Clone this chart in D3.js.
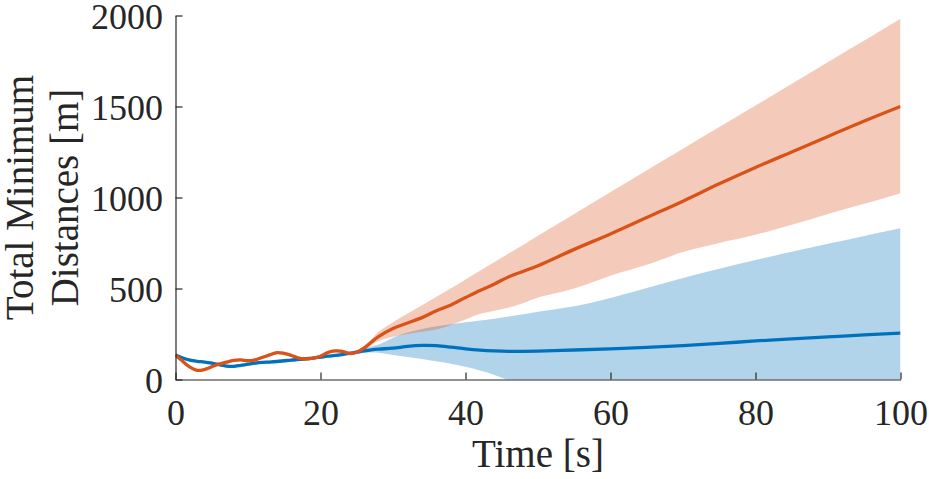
<!DOCTYPE html>
<html>
<head>
<meta charset="utf-8">
<script src="https://cdn.jsdelivr.net/npm/d3@7"></script>
<style>
  body { margin: 0; background: #fff; }
  svg { display: block; font-family: "Liberation Serif", "Times New Roman", serif; }
</style>
</head>
<body>
<div id="chart"></div>
<script>
// time samples [s]
const times = [0,1,2,3,4,5,6,7,8,9,10,11,12,13,14,15,16,17,18,19,20,21,22,23,24,25,26,27,28,
  30,32,34,36,38,40,42,44,46,48,50,55,60,65,70,75,80,85,90,95,100];

// blue series: mean and band
const blueMean = [135,118,106,100,96,90,82,74,72,78,84,90,94,96,99,103,107,110,114,118,123,128,132,137,143,150,157,163,167,
  172,182,187,186,178,168,161,157,155,155,156,162,168,176,186,198,212,223,234,245,255];
const blueHi = [142,125,113,107,103,97,89,81,79,85,91,97,101,103,106,110,114,117,121,125,130,135,139,145,152,162,172,182,192,
  230,258,278,292,303,314,324,334,346,358,372,402,448,503,558,608,656,702,746,789,831];
const blueLo = [128,111,99,93,89,83,75,67,65,71,77,83,87,89,92,96,100,103,107,111,116,121,125,130,136,142,146,148,147,
  135,124,113,100,86,70,49,25,-5,-30,-50,-90,-120,-150,-170,-190,-205,-215,-225,-235,-245];

// orange series: mean and band
const orangeMean = [135,100,68,50,55,70,85,95,105,108,103,108,122,135,148,143,132,118,113,117,128,148,157,155,143,150,172,205,235,
  280,310,340,378,410,450,489,525,565,595,625,715,800,890,980,1075,1165,1250,1335,1420,1500];
const orangeHi = [143,108,76,58,63,78,93,103,113,116,111,116,130,143,156,151,140,126,121,125,136,156,165,163,151,160,185,220,262,
  315,362,408,455,502,550,598,645,693,740,790,910,1030,1150,1268,1387,1505,1625,1745,1862,1982];
const orangeLo = [127,92,60,42,47,62,77,87,97,100,95,100,114,127,140,135,124,110,105,109,120,140,149,147,135,142,160,188,212,
  235,250,262,275,300,330,361,378,395,420,450,500,570,630,700,750,795,850,910,965,1024];

const xTicks = [0,20,40,60,80,100];
const yTicks = [0,500,1000,1500,2000];

document.addEventListener("DOMContentLoaded", () => {
  const W = 929, H = 479;
  const svg = d3.select("#chart").append("svg")
      .attr("width", W).attr("height", H);

  const x = d3.scaleLinear().domain([0, 100]).range([175.5, 900.5]);
  const y = d3.scaleLinear().domain([0, 2000]).range([379.5, 15.5]);

  svg.append("clipPath").attr("id", "plot")
    .append("rect")
      .attr("x", x(0)).attr("y", y(2000))
      .attr("width", x(100) - x(0)).attr("height", y(0) - y(2000));

  const g = svg.append("g").attr("clip-path", "url(#plot)");

  const band = (lo, hi) => d3.area()
      .x((d, i) => x(times[i]))
      .y0((d, i) => y(lo[i]))
      .y1((d, i) => y(hi[i]))
      .curve(d3.curveCatmullRom)(times);

  const line = vals => d3.line()
      .x((d, i) => x(times[i]))
      .y((d, i) => y(vals[i]))
      .curve(d3.curveCatmullRom)(times);

  g.append("path").attr("d", band(blueLo, blueHi))
    .attr("fill", "#0072BD").attr("fill-opacity", 0.3);
  g.append("path").attr("d", band(orangeLo, orangeHi))
    .attr("fill", "#D95319").attr("fill-opacity", 0.3);

  g.append("path").attr("d", line(blueMean))
    .attr("fill", "none").attr("stroke", "#0072BD").attr("stroke-width", 3.3);
  g.append("path").attr("d", line(orangeMean))
    .attr("fill", "none").attr("stroke", "#D95319").attr("stroke-width", 3.3);

  // axes, ticks pointing inward
  const fmt = d3.format("d");
  const xAxis = svg.append("g")
      .attr("transform", `translate(0,${y(0)})`)
      .call(d3.axisBottom(x).tickValues(xTicks).tickFormat(fmt)
        .tickSizeInner(-7).tickSizeOuter(0).tickPadding(20));
  const yAxis = svg.append("g")
      .attr("transform", `translate(${x(0)},0)`)
      .call(d3.axisLeft(y).tickValues(yTicks).tickFormat(fmt)
        .tickSizeInner(-7).tickSizeOuter(0).tickPadding(12.5));

  [xAxis, yAxis].forEach(a => {
    a.selectAll("path, line").attr("stroke", "#262626").attr("stroke-width", 1.2);
    a.selectAll("text")
      .attr("fill", "#262626")
      .style("font-family", "'Liberation Serif', 'Times New Roman', serif")
      .style("font-size", "36px");
  });
  yAxis.selectAll("text").attr("dy", "0.35em");

  svg.append("text")
      .attr("x", (x(0) + x(100)) / 2)
      .attr("y", 467)
      .attr("text-anchor", "middle")
      .attr("fill", "#262626")
      .style("font-size", "39px")
      .text("Time [s]");

  const yLabel = ["Total Minimum", "Distances [m]"];
  svg.selectAll(".ylab")
    .data(yLabel)
    .join("text")
      .attr("class", "ylab")
      .attr("transform", (d, i) => `translate(${33 + i * 45},${(y(0) + y(2000)) / 2}) rotate(-90)`)
      .attr("text-anchor", "middle")
      .attr("fill", "#262626")
      .style("font-size", "39px")
      .text(d => d);
});
</script>
</body>
</html>
